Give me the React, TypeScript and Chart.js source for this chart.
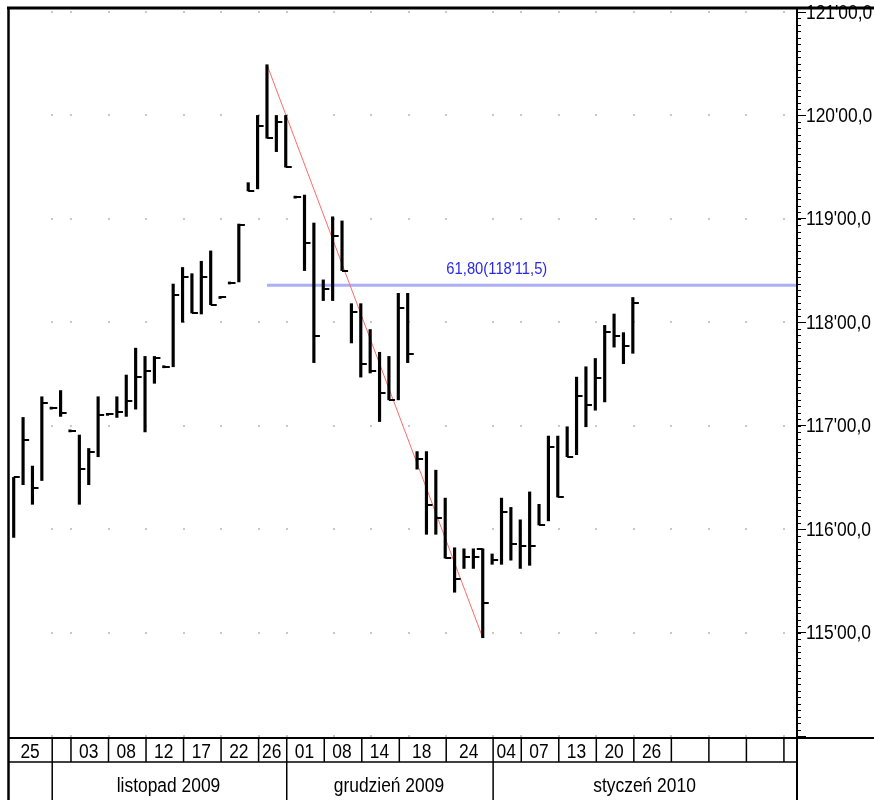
import { useEffect, useRef } from 'react';
import { Chart, registerables } from 'chart.js';

Chart.register(...registerables);

// ---------- data ----------
const slotCount = 84; // trading-session slots on the time axis (67 filled)

const highs = [
  116.50, 117.08, 116.61, 117.28, 117.18, 117.34, 116.96, 116.91, 116.78, 117.28,
  117.12, 117.28, 117.49, 117.75, 117.67, 117.67, 117.58, 118.37, 118.53, 118.47,
  118.59, 118.69, 118.25, 118.39, 118.95, 119.35, 120.00, 120.49, 120.00, 120.00,
  119.22, 119.23, 118.96, 118.41, 119.02, 118.98, 118.18, 118.18, 117.93, 117.71,
  117.67, 118.28, 118.28, 116.75, 116.75, 116.57, 116.30, 115.82, 115.81, 115.81,
  115.81, 115.76, 116.30, 116.21, 116.09, 116.36, 116.24, 116.90, 116.90, 116.99,
  117.47, 117.57, 117.65, 117.97, 118.08, 117.90, 118.24,
];
const lows = [
  115.92, 116.43, 116.24, 116.47, 117.16, 117.09, 116.94, 116.24, 116.43, 116.70,
  117.10, 117.08, 117.09, 117.16, 116.94, 117.41, 117.56, 117.57, 118.00, 118.09,
  118.08, 118.17, 118.23, 118.37, 118.39, 119.27, 119.29, 119.78, 119.65, 119.50,
  119.20, 118.50, 117.61, 118.21, 118.21, 118.50, 117.80, 117.47, 117.51, 117.04,
  117.25, 117.25, 117.61, 116.58, 115.95, 115.95, 115.72, 115.39, 115.62, 115.62,
  114.95, 115.66, 115.66, 115.70, 115.62, 115.65, 116.04, 116.08, 116.31, 116.70,
  116.72, 116.99, 117.15, 117.23, 117.76, 117.60, 117.70,
];
const closes = [
  116.50, 116.86, 116.40, 117.22, 117.17, 117.12, 116.95, 116.58, 116.75, 117.10,
  117.11, 117.13, 117.24, 117.47, 117.53, 117.65, 117.57, 118.26, 118.44, 118.09,
  118.44, 118.17, 118.24, 118.38, 118.94, 119.27, 119.90, 119.78, 119.94, 119.50,
  119.21, 118.77, 117.87, 118.32, 118.83, 118.50, 118.10, 117.60, 117.53, 117.32,
  117.25, 118.14, 117.69, 116.68, 116.23, 116.11, 115.72, 115.52, 115.73, 115.73,
  115.29, 115.70, 116.17, 115.86, 115.84, 115.84, 116.04, 116.79, 116.31, 116.70,
  117.29, 117.20, 117.46, 117.91, 117.87, 117.77, 118.19,
];
const openIdx = [50];
const openVals = [115.81];

const trendFromIdx = 27;
const trendHigh = 120.49;
const trendToIdx = 50;
const trendLow = 114.95;

const fibLevel = 118.359;
const fibLabel = "61,80(118'11,5)";
const fibStartIdx = 27;
const fibLabelIdx = 51.5;

const yMin = 114;
const yMax = 121;

const dayCellIdx = [0, 4, 6, 10, 14, 18, 22, 26, 29, 33, 37, 41, 46, 51, 54, 58, 62, 66, 70, 74, 78, 82];
const dayCellText = ['25', '', '03', '08', '12', '17', '22', '26', '01', '08', '14', '18', '24', '04', '07', '13', '20', '26', '', '', '', ''];
const monthIdx = [4, 29, 51];
const monthText = ['listopad 2009', 'grudzień 2009', 'styczeń 2010'];
const gridIdx = [4, 6, 10, 14, 18, 22, 26, 29, 34, 38, 42, 46, 51, 54, 58, 62, 66, 70, 74, 78, 82];

const FONT = '"Liberation Sans", Arial, sans-serif';
const SQUEEZE = 0.87;

function fmtPrice(v: number) {
  return `${v}'00,0`;
}

function narrowText(ctx: CanvasRenderingContext2D, text: string, x: number, y: number, size: number, align: CanvasTextAlign) {
  ctx.save();
  ctx.translate(x, y);
  ctx.scale(SQUEEZE, 1);
  ctx.font = `${size}px ${FONT}`;
  ctx.textAlign = align;
  ctx.textBaseline = 'middle';
  ctx.fillText(text, 0, 0);
  ctx.restore();
}

const decorPlugin = {
  id: 'decor',
  beforeDatasetsDraw(chart: any) {
    const { ctx, chartArea: a, scales } = chart;
    const x = scales.x;
    const y = scales.y;
    ctx.save();
    // dotted grid (intersection dots)
    ctx.fillStyle = '#c8c8c8';
    for (const gi of gridIdx) {
      const px = x.getPixelForValue(gi);
      for (let v = yMin; v <= yMax; v++) {
        const py = y.getPixelForValue(v);
        ctx.fillRect(Math.round(px), Math.round(py) - 1, 2, 2);
      }
    }
    // fibonacci level
    const fy = y.getPixelForValue(fibLevel);
    ctx.strokeStyle = '#a9b0f8';
    ctx.lineWidth = 3;
    ctx.beginPath();
    ctx.moveTo(x.getPixelForValue(fibStartIdx), fy);
    ctx.lineTo(a.right, fy);
    ctx.stroke();
    ctx.fillStyle = '#2a2ae6';
    narrowText(ctx, fibLabel, x.getPixelForValue(fibLabelIdx), fy - 16, 17, 'center');
    ctx.restore();
  },
  afterDraw(chart: any) {
    const { ctx, chartArea: a, scales, width, height } = chart;
    const x = scales.x;
    const y = scales.y;
    ctx.save();
    ctx.strokeStyle = '#000';
    ctx.fillStyle = '#000';
    const line = (x1: number, y1: number, x2: number, y2: number, w: number) => {
      ctx.lineWidth = w;
      ctx.beginPath();
      ctx.moveTo(x1, y1);
      ctx.lineTo(x2, y2);
      ctx.stroke();
    };
    const rowTop = a.bottom + 2;
    const rowMid = rowTop + 24;
    // price labels
    for (let v = yMin + 1; v <= yMax; v++) {
      narrowText(ctx, fmtPrice(v), a.right + 9, y.getPixelForValue(v) + 1, 20, 'left');
    }
    // frame
    line(7, 8, width, 8, 3);
    line(8.5, 7, 8.5, height, 2.5);
    line(a.right, 8, a.right, height, 2);
    line(8, rowTop, width, rowTop, 2);
    line(8, rowMid, a.right, rowMid, 1.5);
    // minor ticks on price axis
    for (let k = 0; k <= (yMax - yMin) * 16; k++) {
      const py = Math.round(y.getPixelForValue(yMin + k / 16)) + 0.5;
      line(a.right, py, a.right + 4, py, 1);
    }
    // day cells
    for (let i = 0; i < dayCellIdx.length; i++) {
      const x0 = i === 0 ? a.left : x.getPixelForValue(dayCellIdx[i]);
      const x1 = i + 1 < dayCellIdx.length ? x.getPixelForValue(dayCellIdx[i + 1]) : a.right;
      if (i > 0) line(x0 + 1, rowTop, x0 + 1, rowMid, 1.5);
      if (dayCellText[i]) narrowText(ctx, dayCellText[i], (x0 + x1) / 2, (rowTop + rowMid) / 2 + 2, 20, 'center');
    }
    // month cells
    for (let i = 0; i < monthIdx.length; i++) {
      const x0 = x.getPixelForValue(monthIdx[i]);
      const x1 = i + 1 < monthIdx.length ? x.getPixelForValue(monthIdx[i + 1]) : a.right;
      line(x0 + 1, rowMid, x0 + 1, height, 1.5);
      narrowText(ctx, monthText[i], (x0 + x1) / 2, rowMid + 24, 20, 'center');
    }
    ctx.restore();
  },
};

export default function App() {
  const ref = useRef<HTMLCanvasElement | null>(null);

  useEffect(() => {
    const canvas = ref.current;
    if (!canvas) return;

    const mkTick = (side: 'l' | 'r') => {
      const c = document.createElement('canvas');
      c.width = 14;
      c.height = 2;
      const g = c.getContext('2d')!;
      g.fillStyle = '#000';
      if (side === 'r') g.fillRect(7, 0, 6, 2);
      else g.fillRect(1, 0, 6, 2);
      return c;
    };

    const labels = Array.from({ length: slotCount }, (_, i) => String(i));
    const ranges = highs.map((h, i) => [lows[i], h]);
    const opens = labels.map((_, i) => {
      const k = openIdx.indexOf(i);
      return k >= 0 ? openVals[k] : null;
    });
    const trend = labels.map((_, i) =>
      i === trendFromIdx ? trendHigh : i === trendToIdx ? trendLow : null
    );

    const chart = new Chart(canvas, {
      type: 'bar',
      data: {
        labels,
        datasets: [
          {
            type: 'line',
            data: trend as any,
            borderColor: '#ff6a6a',
            borderWidth: 1,
            pointRadius: 0,
            spanGaps: true,
            order: 5,
          } as any,
          {
            type: 'bar',
            data: ranges as any,
            backgroundColor: '#000',
            borderWidth: 0,
            barThickness: 2.5,
            order: 2,
          } as any,
          {
            type: 'line',
            data: closes,
            showLine: false,
            pointStyle: mkTick('r'),
            pointRadius: 3,
            order: 1,
          } as any,
          {
            type: 'line',
            data: opens as any,
            showLine: false,
            pointStyle: mkTick('l'),
            pointRadius: 3,
            order: 1,
          } as any,
        ],
      },
      options: {
        responsive: false,
        animation: false,
        layout: { padding: { left: 9, top: 12, right: 0, bottom: 64 } },
        plugins: { legend: { display: false }, tooltip: { enabled: false } },
        scales: {
          x: { type: 'category', display: false, offset: true },
          y: {
            position: 'right',
            min: yMin,
            max: yMax,
            border: { display: false },
            grid: { drawOnChartArea: false, drawTicks: true, tickLength: 9, color: '#000', lineWidth: 1 },
            ticks: { stepSize: 1, display: false },
            afterFit(s: any) {
              s.width = 77;
              s.paddingTop = 0;
              s.paddingBottom = 0;
            },
          },
        },
      },
      plugins: [decorPlugin],
    });

    return () => chart.destroy();
  }, []);

  return (
    <div style={{ position: 'absolute', left: 0, top: 0, width: 874, height: 800, background: '#fff' }}>
      <canvas ref={ref} width={874} height={800} style={{ width: 874, height: 800, display: 'block' }} />
    </div>
  );
}
